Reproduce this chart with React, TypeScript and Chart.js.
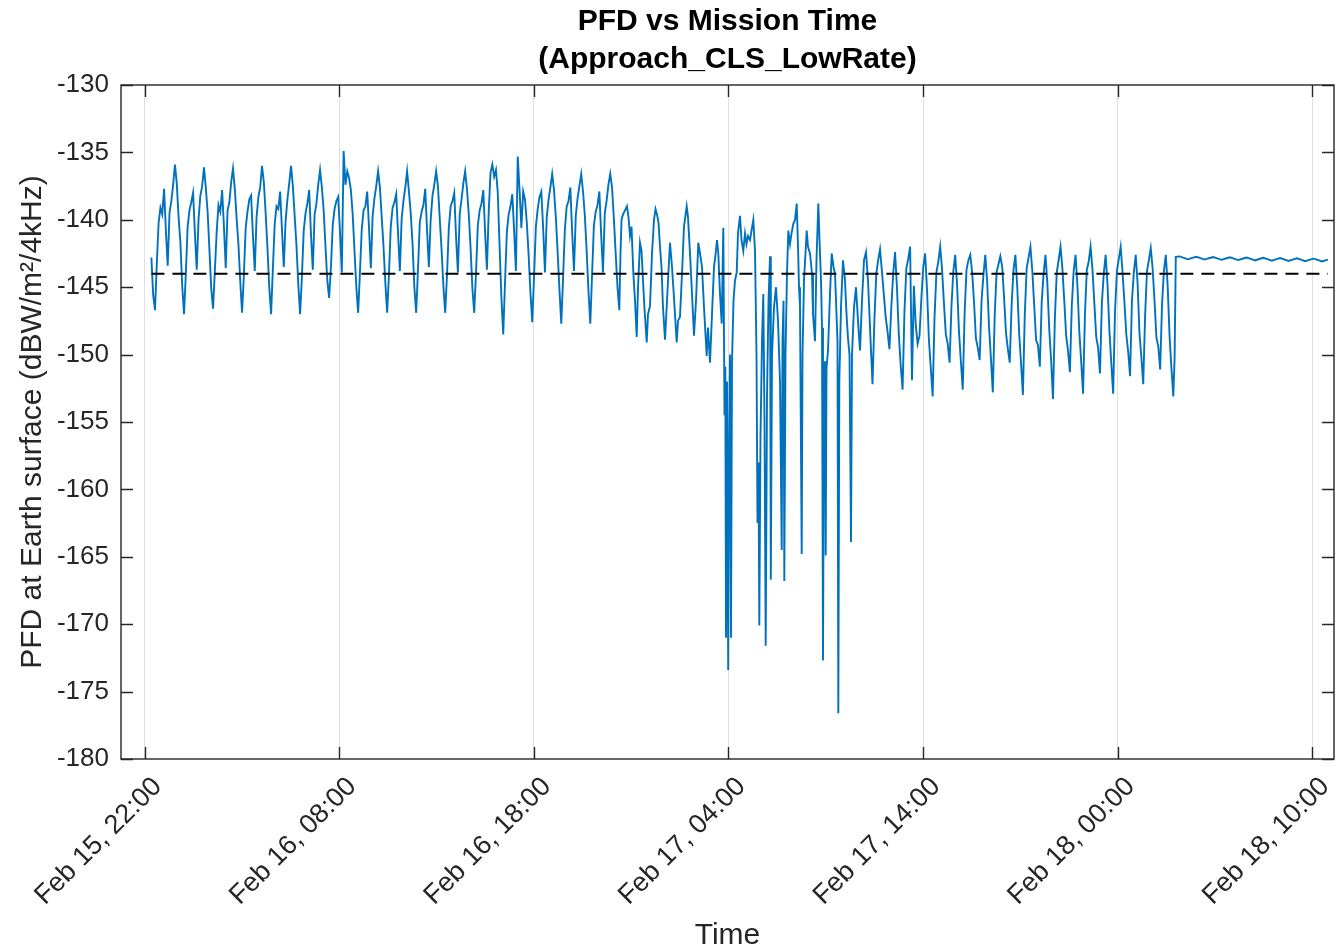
import React, { useEffect, useRef } from "react";
import { Chart, registerables } from "chart.js";

Chart.register(...registerables);

// ---- Chart text ----
const chartTitle = ["PFD vs Mission Time", "(Approach_CLS_LowRate)"];
const xAxisTitle = "Time";
const yAxisTitle = "PFD at Earth surface (dBW/m²/4kHz)";

// x axis in hours since Feb 15 00:00
const xTickHours = [22, 32, 42, 52, 62, 72, 82];
const xTickLabels = [
  "Feb 15, 22:00",
  "Feb 16, 08:00",
  "Feb 16, 18:00",
  "Feb 17, 04:00",
  "Feb 17, 14:00",
  "Feb 18, 00:00",
  "Feb 18, 10:00",
];
const xMin = 20.787;
const xMax = 83.12;
const yMin = -180;
const yMax = -130;
const yStep = 5;

// PFD limit (dashed line)
const pfdLimit = -144;
const limitStartHour = 22.35;
const limitEndHour = 82.81;

// Phase A: regular orbit-like oscillation, sampled every phaseAStep hours
const phaseAStart = 22.348;
const phaseAStep = 0.0932;
const phaseAValues = [
  -142.8, -145.6,
  -146.7, -143.2, -140.2, -139.1, -139.6, -137.7, -140.8, -143.4, -139.5, -138.6, -137.4, -135.9, -137.3, -139.8, -141.7, -144.9,
  -147.0, -144.0, -140.5, -139.3, -138.7, -138.0, -141.0, -143.7, -140.0, -138.2, -137.5, -136.1, -137.6, -139.4, -142.2, -145.1,
  -146.6, -143.8, -140.9, -138.9, -139.4, -137.8, -140.5, -143.6, -139.3, -138.7, -137.2, -136.2, -137.7, -139.9, -141.8, -144.6,
  -146.9, -144.1, -140.6, -139.4, -138.5, -138.2, -141.2, -143.8, -139.8, -138.3, -137.6, -136.0, -137.2, -139.5, -142.1, -145.0,
  -147.0, -143.6, -140.3, -139.0, -139.2, -137.9, -140.7, -143.5, -140.1, -138.5, -137.3, -136.0, -137.5, -139.7, -141.9, -144.8,
  -147.0, -144.2, -140.8, -139.5, -138.8, -137.8, -141.1, -143.7, -139.6, -138.8, -137.4, -136.3, -137.6, -139.3, -142.0, -144.5,
  -145.8, -143.5, -140.4, -139.2, -138.6, -138.3, -140.9, -143.9, -134.9, -137.4, -136.4, -136.9, -137.8, -139.6, -142.3, -145.0,
  -146.9, -143.9, -140.7, -139.3, -139.0, -137.9, -140.6, -143.6, -139.7, -138.4, -137.5, -136.4, -137.6, -139.8, -142.0, -144.7,
  -146.9, -144.0, -140.5, -139.1, -138.7, -138.1, -141.0, -143.8, -139.9, -138.6, -137.6, -136.4, -137.9, -139.5, -141.8, -145.0,
  -146.9, -143.7, -140.2, -139.4, -138.9, -137.7, -140.8, -143.5, -140.0, -138.2, -137.4, -136.4, -137.5, -139.9, -142.2, -144.9,
  -146.9, -144.1, -140.6, -139.0, -138.6, -138.0, -141.3, -143.9, -139.6, -138.5, -137.3, -136.4, -137.7, -139.6, -142.1, -145.1,
  -146.9, -143.9, -140.4, -139.3, -138.8, -137.8, -140.9, -143.7, -139.4, -136.5, -135.9, -136.8, -136.3, -138.0, -142.0, -145.8,
  -148.5, -144.6, -140.9, -139.6, -139.0, -138.1, -140.8, -143.8, -135.3, -137.8, -140.6, -137.9, -138.5, -140.2, -142.6, -145.4,
  -147.6, -144.2, -140.5, -139.2, -138.3, -137.9, -140.6, -143.9, -139.8, -138.5, -137.6, -136.6, -137.8, -139.8, -142.4, -145.2,
  -147.7, -144.3, -140.7, -139.0, -138.6, -137.6, -140.9, -143.8, -139.7, -138.4, -137.5, -136.6, -137.9, -139.7, -142.3, -145.3,
  -147.7, -144.0, -140.4, -139.4, -138.9, -137.9, -141.1, -143.9, -139.5, -138.6, -137.4, -136.6, -137.6, -139.9, -142.5, -145.0,
  -146.7,
];

// Phase B: transition with deep fades, [hour, dBW]
const phaseBSamples: [number, number][] = [
  [46.455, -142.5], [46.507, -140.0], [46.584, -139.6], [46.687, -139.3], [46.789, -139.0],
  [46.866, -139.8], [46.944, -141.2], [47.021, -140.5], [47.113, -143.9], [47.2, -146.0],
  [47.288, -148.7], [47.355, -145.0], [47.457, -141.7], [47.535, -142.3], [47.612, -144.5],
  [47.689, -146.6], [47.802, -149.1], [47.869, -147.0], [47.971, -146.4], [48.074, -142.5],
  [48.177, -140.0], [48.254, -139.2], [48.331, -139.6], [48.408, -140.2], [48.485, -142.0],
  [48.562, -143.5], [48.639, -146.5], [48.742, -148.9], [48.845, -146.0], [48.922, -143.8],
  [48.999, -141.7], [49.102, -143.5], [49.205, -145.8], [49.343, -149.1], [49.41, -147.5],
  [49.513, -147.2], [49.616, -144.0], [49.718, -140.5], [49.857, -139.0], [49.924, -139.8],
  [50.027, -142.5], [50.13, -145.5], [50.232, -148.6], [50.335, -146.0], [50.453, -141.7],
  [50.541, -142.5], [50.643, -143.5], [50.746, -146.5], [50.885, -150.1], [50.952, -148.0],
  [51.055, -150.6], [51.157, -147.0], [51.26, -143.5], [51.337, -142.6], [51.414, -141.5],
  [51.481, -142.5], [51.568, -145.5], [51.656, -147.7], [51.738, -140.6], [51.8, -154.5],
  [51.841, -150.9], [51.877, -171.0], [51.928, -152.0], [51.99, -173.4], [52.031, -158.0],
  [52.082, -150.0], [52.134, -171.0], [52.185, -150.5], [52.262, -146.0], [52.339, -144.5],
  [52.427, -143.9], [52.493, -141.0], [52.596, -139.7], [52.673, -141.5], [52.766, -142.3],
  [52.853, -141.0], [52.93, -141.8], [53.007, -141.2], [53.11, -141.5], [53.187, -140.8],
  [53.28, -140.0], [53.367, -142.3], [53.444, -150.0], [53.495, -162.5], [53.547, -158.0],
  [53.588, -170.1], [53.65, -156.0], [53.727, -149.0], [53.793, -145.5], [53.855, -155.0],
  [53.917, -171.6], [53.984, -153.0], [54.061, -146.0], [54.138, -142.7], [54.179, -166.7],
  [54.241, -150.0], [54.343, -146.5], [54.446, -145.0], [54.549, -147.5], [54.652, -152.0],
  [54.739, -164.5], [54.78, -149.0], [54.832, -146.0], [54.873, -166.8], [54.934, -150.0],
  [55.011, -144.0], [55.078, -140.8], [55.166, -141.8], [55.243, -141.0], [55.335, -140.3],
  [55.423, -140.0], [55.51, -138.8], [55.577, -142.0], [55.628, -145.0], [55.679, -146.4],
  [55.767, -164.8], [55.808, -150.0], [55.885, -144.5], [56.024, -140.8], [56.091, -142.0],
  [56.193, -142.5], [56.296, -144.0], [56.347, -147.0], [56.45, -149.0], [56.527, -143.0],
  [56.62, -138.8], [56.682, -141.5], [56.759, -144.5], [56.81, -148.0], [56.861, -172.7],
  [56.913, -152.0], [56.964, -150.5], [57.0, -164.9], [57.041, -151.0], [57.118, -149.7],
  [57.221, -145.5], [57.308, -142.5], [57.401, -143.5], [57.478, -144.0], [57.555, -147.0],
  [57.606, -149.0], [57.648, -176.6], [57.699, -152.0], [57.786, -146.5], [57.889, -143.0],
  [57.992, -144.5], [58.069, -147.0], [58.146, -148.8], [58.223, -150.0], [58.3, -163.9],
  [58.352, -150.0], [58.454, -146.5], [58.557, -145.0], [58.66, -147.5], [58.763, -149.7],
  [58.865, -146.0], [58.968, -143.0], [59.071, -142.4], [59.174, -144.5], [59.277, -148.0],
];

// Phase C: low double-humped oscillation, sampled every phaseCStep hours
const phaseCStart = 59.405;
const phaseCStep = 0.09661;
const phaseCValues = [
  -152.2, -147.5, -144.0, -143.0, -142.2, -143.8, -145.5, -147.2, -148.3, -149.6, -146.5, -144.0, -142.4, -145.0, -148.5, -150.8,
  -152.6, -146.8, -143.6, -142.9, -142.0, -151.9, -144.9, -147.8, -149.2, -148.6, -145.8, -143.5, -142.5, -145.2, -148.9, -151.0,
  -153.1, -147.2, -143.9, -143.1, -142.0, -143.7, -146.2, -148.5, -149.2, -150.6, -146.4, -143.8, -142.6, -144.9, -148.3, -150.5,
  -152.6, -146.9, -143.7, -143.0, -142.6, -143.9, -146.1, -148.8, -149.5, -150.4, -146.0, -144.1, -142.6, -144.6, -148.0, -150.3,
  -152.8, -147.1, -143.9, -143.3, -142.7, -143.5, -145.8, -148.4, -149.6, -150.6, -146.3, -143.7, -142.6, -145.0, -148.4, -150.6,
  -153.0, -147.0, -143.6, -142.8, -142.0, -143.8, -146.3, -148.9, -149.3, -150.9, -146.1, -144.0, -142.6, -144.7, -148.1, -150.4,
  -153.3, -147.3, -143.9, -143.0, -142.0, -143.6, -146.0, -148.6, -149.7, -151.3, -146.4, -143.8, -142.6, -144.9, -148.3, -150.5,
  -152.9, -147.0, -143.7, -143.1, -142.0, -143.7, -146.2, -148.7, -149.5, -151.4, -146.2, -144.0, -142.6, -144.8, -148.2, -150.6,
  -152.9, -146.8, -143.8, -142.9, -142.0, -143.9, -146.1, -148.5, -149.8, -151.6, -146.0, -143.9, -142.6, -144.7, -148.4, -150.2,
  -152.2, -147.1, -143.8, -143.0, -142.1, -143.6, -146.0, -148.7, -149.4, -151.1, -146.3, -143.8, -142.6, -144.9, -148.6, -151.0,
  -153.1,
];

// Phase D: steady cruise with a small ripple, [hour, dBW]
const phaseDSamples: [number, number][] = [
  [74.93, -150.2], [74.99, -142.75], [75.19, -142.72], [75.4, -142.82], [75.62, -142.93],
  [75.83, -142.83], [76.05, -142.74], [76.26, -142.84], [76.48, -142.95], [76.69, -142.85],
  [76.91, -142.76], [77.12, -142.86], [77.34, -142.97], [77.55, -142.87], [77.77, -142.78],
  [77.98, -142.88], [78.2, -142.99], [78.41, -142.89], [78.63, -142.8], [78.84, -142.9],
  [79.06, -143.01], [79.27, -142.91], [79.49, -142.82], [79.7, -142.92], [79.92, -143.03],
  [80.13, -142.93], [80.35, -142.84], [80.56, -142.94], [80.78, -143.05], [80.99, -142.95],
  [81.21, -142.86], [81.42, -142.96], [81.64, -143.07], [81.85, -142.97], [82.07, -142.88],
  [82.28, -142.98], [82.5, -143.09], [82.71, -142.99], [82.81, -142.95],
];

const FONT = "'Liberation Sans', Arial, Helvetica, sans-serif";
const AXIS_COLOR = "#262626";

const matlabBox = {
  id: "matlabBox",
  afterDatasetsDraw(chart: any) {
    const { ctx, chartArea, scales } = chart;
    const { left, right, top, bottom } = chartArea;
    const len = 12;
    ctx.save();
    ctx.strokeStyle = AXIS_COLOR;
    ctx.lineWidth = 1.4;
    ctx.beginPath();
    scales.x.ticks.forEach((t: any) => {
      const px = Math.round(scales.x.getPixelForValue(t.value)) + 0.5;
      ctx.moveTo(px, bottom);
      ctx.lineTo(px, bottom - len);
      ctx.moveTo(px, top);
      ctx.lineTo(px, top + len);
    });
    scales.y.ticks.forEach((t: any) => {
      const py = Math.round(scales.y.getPixelForValue(t.value)) + 0.5;
      ctx.moveTo(left, py);
      ctx.lineTo(left + len, py);
      ctx.moveTo(right, py);
      ctx.lineTo(right - len, py);
    });
    ctx.stroke();
    ctx.strokeRect(left, top, right - left, bottom - top);
    ctx.restore();
  },
};

export default function App() {
  const canvasRef = useRef<HTMLCanvasElement | null>(null);

  useEffect(() => {
    const canvas = canvasRef.current;
    if (!canvas) return;

    const pfdPoints = [
      ...phaseAValues.map((v, i) => ({ x: phaseAStart + i * phaseAStep, y: v })),
      ...phaseBSamples.map(([h, v]) => ({ x: h, y: v })),
      ...phaseCValues.map((v, i) => ({ x: phaseCStart + i * phaseCStep, y: v })),
      ...phaseDSamples.map(([h, v]) => ({ x: h, y: v })),
    ];

    const chart = new Chart(canvas, {
      type: "line",
      data: {
        datasets: [
          {
            label: "PFD limit",
            data: [
              { x: limitStartHour, y: pfdLimit },
              { x: limitEndHour, y: pfdLimit },
            ],
            borderColor: "#000000",
            borderWidth: 2,
            borderDash: [13, 8],
            pointRadius: 0,
            order: 0,
          },
          {
            label: "PFD",
            data: pfdPoints,
            borderColor: "#0072BD",
            borderWidth: 1.9,
            pointRadius: 0,
            tension: 0,
            order: 1,
          },
        ],
      },
      plugins: [matlabBox],
      options: {
        animation: false,
        responsive: false,
        devicePixelRatio: 1,
        layout: { padding: { left: 0, right: 4, top: 0, bottom: 0 } },
        plugins: {
          legend: { display: false },
          tooltip: { enabled: false },
          title: {
            display: true,
            text: chartTitle,
            fullSize: false,
            color: "#000000",
            font: { family: FONT, size: 30, weight: "bold", lineHeight: "38px" },
            padding: { top: 3, bottom: 6 },
          },
        },
        scales: {
          x: {
            type: "linear",
            min: xMin,
            max: xMax,
            afterBuildTicks: (scale: any) => {
              scale.ticks = xTickHours.map((v) => ({ value: v }));
            },
            afterFit: (scale: any) => {
              scale.height = 192;
              scale.paddingRight = 0;
              scale.paddingLeft = 0;
            },
            border: { display: false },
            grid: { color: "#dfdfdf", lineWidth: 1, drawTicks: false },
            ticks: {
              autoSkip: false,
              minRotation: 45,
              maxRotation: 45,
              padding: 12,
              labelOffset: 13,
              color: AXIS_COLOR,
              font: { family: FONT, size: 27 },
              callback: (value: any) => {
                const i = xTickHours.indexOf(Number(value));
                return i >= 0 ? xTickLabels[i] : "";
              },
            },
            title: {
              display: true,
              text: xAxisTitle,
              color: AXIS_COLOR,
              font: { family: FONT, size: 30, lineHeight: 1.0 },
              padding: { top: 0, bottom: 0 },
            },
          },
          y: {
            min: yMin,
            max: yMax,
            afterFit: (scale: any) => {
              scale.width = 121;
            },
            border: { display: false },
            grid: { display: false, drawTicks: false },
            ticks: {
              stepSize: yStep,
              padding: 12,
              color: AXIS_COLOR,
              font: { family: FONT, size: 26 },
            },
            title: {
              display: true,
              text: yAxisTitle,
              color: AXIS_COLOR,
              font: { family: FONT, size: 30, lineHeight: 1.2 },
              padding: { top: 15, bottom: 0 },
            },
          },
        },
      },
    });

    return () => chart.destroy();
  }, []);

  return (
    <div
      style={{
        position: "fixed",
        left: 0,
        top: 0,
        width: 1338,
        height: 951,
        background: "#ffffff",
      }}
    >
      <canvas ref={canvasRef} width={1338} height={951} style={{ display: "block" }} />
    </div>
  );
}
